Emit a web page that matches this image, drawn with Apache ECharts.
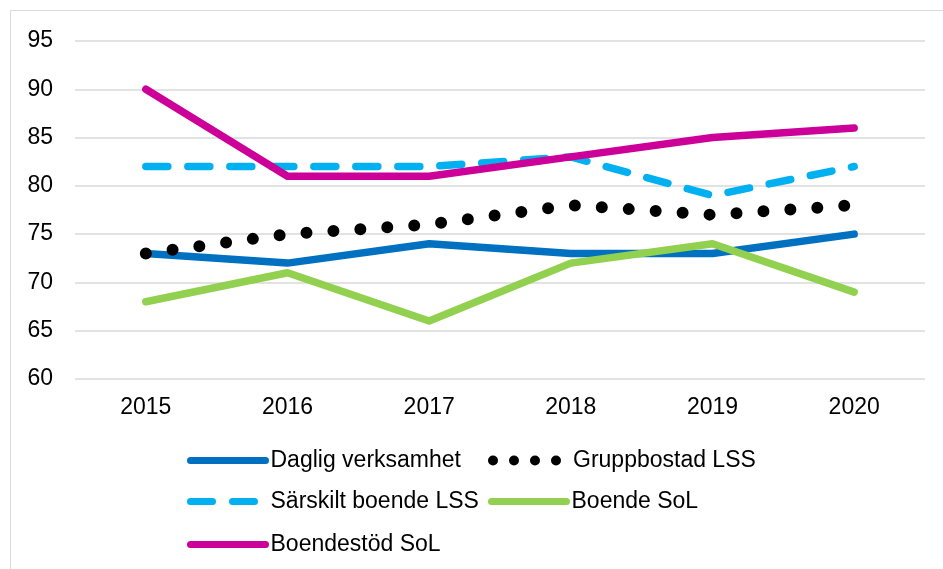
<!DOCTYPE html>
<html>
<head>
<meta charset="utf-8">
<script src="https://cdn.jsdelivr.net/npm/echarts@6/dist/echarts.min.js"></script>
<style>
  html, body { margin: 0; padding: 0; background: #fff; }
  #chart { width: 943px; height: 569px; }
</style>
</head>
<body>
<div id="chart"></div>
<script>
var years = ['2015', '2016', '2017', '2018', '2019', '2020'];
var daglig = [73, 72, 74, 73, 73, 75];
var gruppbostad = [73, 75, 76, 78, 77, 78];
var sarskilt = [82, 82, 82, 83, 79, 82];
var boendeSol = [68, 71, 66, 72, 74, 69];
var boendestod = [90, 81, 81, 83, 85, 86];

var font = '"Liberation Sans", Arial, sans-serif';

function lineSeries(name, data, color, width, type) {
  return {
    name: name,
    type: 'line',
    data: data,
    symbol: 'none',
    animation: false,
    lineStyle: { color: color, width: width, type: type, cap: 'round', join: 'round' },
    itemStyle: { color: color }
  };
}

// one legend per entry so the 2-column layout of the original can be kept
function legendAt(name, left, top, width, dash) {
  var ls = { width: width, cap: 'round' };
  if (dash) ls.type = dash;
  return {
    data: [name],
    left: left,
    top: top,
    itemWidth: 75,
    itemHeight: 14,
    itemGap: 0,
    padding: 0,
    textStyle: { fontFamily: font, fontSize: 23, color: '#000' },
    lineStyle: ls,
    itemStyle: { opacity: 0 },
    selectedMode: false
  };
}

var chart = echarts.init(document.getElementById('chart'));
chart.setOption({
  backgroundColor: '#fff',
  animation: false,
  graphic: [{
    type: 'rect',
    shape: { x: 10.5, y: 10.5, width: 1000, height: 700 },
    style: { fill: 'none', stroke: '#d9d9d9', lineWidth: 1 },
    silent: true
  }],
  grid: { left: 75, right: 18, top: 41, bottom: 190 },
  xAxis: {
    type: 'category',
    data: years,
    axisLine: { show: false },
    axisTick: { show: false },
    axisLabel: { fontFamily: font, fontSize: 23, color: '#000', margin: 17 }
  },
  yAxis: {
    type: 'value',
    min: 60,
    max: 95,
    interval: 5,
    axisLine: { show: false },
    axisTick: { show: false },
    axisLabel: { fontFamily: font, fontSize: 23, color: '#000', margin: 22 },
    splitLine: { lineStyle: { color: '#d9d9d9', width: 1.5 } }
  },
  legend: [
    legendAt('Daglig verksamhet', 187, 449, 7),
    legendAt('Gruppbostad LSS', 488, 449, 10, [0, 21]),
    legendAt('Särskilt boende LSS', 187, 490, 7),
    legendAt('Boende SoL', 488, 490, 7),
    legendAt('Boendestöd SoL', 187, 533, 7)
  ],
  series: [
    lineSeries('Daglig verksamhet', daglig, '#0070C0', 7.5, 'solid'),
    lineSeries('Gruppbostad LSS', gruppbostad, '#000000', 12, [0, 27]),
    lineSeries('Särskilt boende LSS', sarskilt, '#00B0F0', 7.5, [22, 20]),
    lineSeries('Boende SoL', boendeSol, '#92D050', 7.5, 'solid'),
    lineSeries('Boendestöd SoL', boendestod, '#CC0099', 7.5, 'solid')
  ]
});
</script>
</body>
</html>
